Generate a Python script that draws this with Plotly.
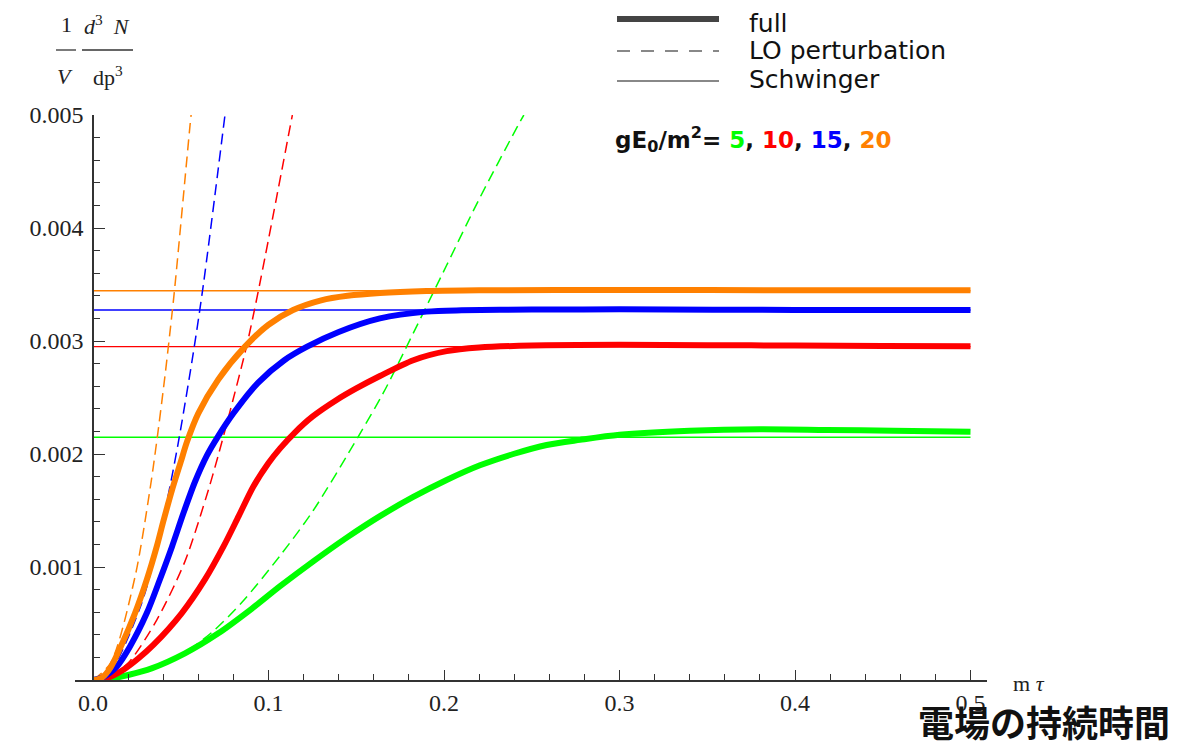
import plotly.graph_objects as go

# ---------------- data ----------------
field_labels = ["5", "10", "15", "20"]
colors = ["#00ff00", "#ff0000", "#0000ff", "#ff8000"]

# Schwinger rate levels
schwinger_x = [0.0, 0.5]
schwinger_levels = [0.002148, 0.002950, 0.003274, 0.003445]

# full results
full_x_5 = [0, 0.01, 0.02, 0.0334, 0.0524, 0.0714, 0.0904, 0.1066, 0.1255, 0.1446, 0.1635, 0.1825,
            0.2015, 0.2205, 0.2395, 0.2585, 0.2775, 0.3, 0.34, 0.38, 0.418, 0.456, 0.5]
full_y_5 = [0, 0.000012, 0.000044, 0.000103, 0.000236, 0.000413, 0.00063, 0.00083, 0.00105, 0.00126,
            0.00145, 0.00162, 0.00177, 0.0019, 0.002, 0.00208, 0.002125, 0.00217, 0.002205, 0.002218,
            0.002212, 0.002206, 0.002197]

full_x_10 = [0, 0.005, 0.01, 0.0182, 0.0258, 0.0344, 0.0505, 0.0638, 0.0743, 0.083, 0.0913, 0.1,
             0.1066, 0.115, 0.125, 0.139, 0.15, 0.1635, 0.1825, 0.2015, 0.22, 0.25, 0.3, 0.35, 0.4,
             0.45, 0.5]
full_y_10 = [0, 0.000008, 0.00003, 0.0001, 0.00019, 0.00031, 0.00059, 0.00089, 0.00118, 0.00145,
             0.00171, 0.00192, 0.00205, 0.00219, 0.00233, 0.00248, 0.00258, 0.00269, 0.00283, 0.00291,
             0.002942, 0.00296, 0.002966, 0.002963, 0.00296, 0.002956, 0.002953]

full_x_15 = [0, 0.005, 0.0135, 0.021, 0.0306, 0.038, 0.045, 0.0515, 0.058, 0.065, 0.071, 0.08,
             0.094, 0.109, 0.122, 0.14, 0.1635, 0.19, 0.21, 0.25, 0.3, 0.4, 0.5]
full_y_15 = [0, 0.00002, 0.000118, 0.000295, 0.00059, 0.000885, 0.00118, 0.001475, 0.00175, 0.00199,
             0.00215, 0.00236, 0.00263, 0.00283, 0.00295, 0.00308, 0.0032, 0.00326, 0.003272, 0.003278,
             0.00328, 0.003275, 0.003274]

full_x_20 = [0, 0.005, 0.01, 0.016, 0.0239, 0.0306, 0.0363, 0.04, 0.045, 0.05, 0.0536, 0.06, 0.0714,
             0.0866, 0.1, 0.114, 0.13, 0.145, 0.1635, 0.19, 0.22, 0.3, 0.4, 0.5]
full_y_20 = [0, 0.00002, 0.00011, 0.0003, 0.00059, 0.000885, 0.00118, 0.0014, 0.00168, 0.00193,
             0.00211, 0.00236, 0.00266, 0.00295, 0.003144, 0.003274, 0.00336, 0.0034, 0.003425,
             0.003442, 0.003449, 0.003451, 0.00345, 0.00345]

# LO perturbation
lo_x_5 = [0, 0.02, 0.035, 0.05, 0.0676, 0.085, 0.1066, 0.1255, 0.151, 0.1654, 0.1825, 0.2015,
          0.2205, 0.2433, 0.2455]
lo_y_5 = [0, 0.00004, 0.00011, 0.00022, 0.00042, 0.00069, 0.0011, 0.0015, 0.00215, 0.00254,
          0.00307, 0.00367, 0.00427, 0.00494, 0.005]

lo_x_10 = [0, 0.01, 0.02, 0.0363, 0.0524, 0.0657, 0.0714, 0.0771, 0.0876, 0.0952, 0.1136]
lo_y_10 = [0, 0.00004, 0.00015, 0.00053, 0.00105, 0.00168, 0.00199, 0.00232, 0.00296, 0.00352, 0.005]

lo_x_15 = [0, 0.01, 0.0268, 0.0344, 0.042, 0.0486, 0.0572, 0.0629, 0.0752]
lo_y_15 = [0, 0.00008, 0.00064, 0.00104, 0.00157, 0.0021, 0.0029, 0.0035, 0.005]

lo_x_20 = [0, 0.01, 0.0239, 0.0325, 0.0363, 0.041, 0.0448, 0.0467, 0.0553, 0.0559]
lo_y_20 = [0, 0.00015, 0.00091, 0.00169, 0.00211, 0.00269, 0.00321, 0.00349, 0.00491, 0.005]

x_ticks = [0.0, 0.1, 0.2, 0.3, 0.4, 0.5]
x_ticklabels = ["0.0", "0.1", "0.2", "0.3", "0.4", "0.5"]
y_ticks = [0.001, 0.002, 0.003, 0.004, 0.005]
y_ticklabels = ["0.001", "0.002", "0.003", "0.004", "0.005"]

full_x = [full_x_5, full_x_10, full_x_15, full_x_20]
full_y = [full_y_5, full_y_10, full_y_15, full_y_20]
lo_x = [lo_x_5, lo_x_10, lo_x_15, lo_x_20]
lo_y = [lo_y_5, lo_y_10, lo_y_15, lo_y_20]

# ---------------- layout geometry (screen pixels) ----------------
OFF = 8                      # default body margin of the html page
SW, SH = 1179, 746           # screen size
W, H = SW - OFF, SH - OFF    # figure size
L, R, T, B = 75, 987, 115, 680   # plot area in screen pixels
X0PIX, XSCALE = 93, 1755.0


def px(p):
    return (p - L) / (R - L)


def py(p):
    return (B - p) / (B - T)


fig = go.Figure()

for lvl, c in zip(schwinger_levels, colors):
    fig.add_trace(go.Scatter(x=schwinger_x, y=[lvl, lvl], mode="lines",
                             line=dict(color=c, width=1.4), showlegend=False, hoverinfo="skip"))

for xs, ys, c in zip(lo_x, lo_y, colors):
    fig.add_trace(go.Scatter(x=xs, y=ys, mode="lines", line_shape="spline",
                             line=dict(color=c, width=1.5, dash="11px,6px", smoothing=0.8),
                             showlegend=False, hoverinfo="skip"))

for xs, ys, c in zip(full_x, full_y, colors):
    fig.add_trace(go.Scatter(x=xs, y=ys, mode="lines", line_shape="spline",
                             line=dict(color=c, width=6, smoothing=0.8),
                             showlegend=False, hoverinfo="skip"))

axis_col = "#333333"
tick_font = dict(family="Liberation Serif, Times New Roman, serif", size=24, color="#222222")

xmin = (L - X0PIX) / XSCALE
xmax = (R - X0PIX) / XSCALE

fig.update_xaxes(range=[xmin, xmax], showgrid=False, zeroline=False,
                 showline=True, linecolor=axis_col, linewidth=1.6,
                 ticks="inside", ticklen=10, tickwidth=1.4, tickcolor=axis_col,
                 tickvals=x_ticks, ticktext=x_ticklabels, tickfont=tick_font,
                 minor=dict(ticks="inside", dtick=0.02, tick0=0, ticklen=6, tickwidth=1.2,
                            tickcolor=axis_col, showgrid=False))
fig.update_yaxes(range=[0, 0.005], showgrid=False, zeroline=False,
                 showline=True, linecolor=axis_col, linewidth=1.6,
                 anchor="free", position=px(X0PIX),
                 ticks="inside", ticklen=11, tickwidth=1.4, tickcolor=axis_col,
                 tickvals=y_ticks, ticktext=y_ticklabels, tickfont=tick_font,
                 ticklabelstandoff=4,
                 minor=dict(ticks="inside", dtick=0.0002, tick0=0, ticklen=6, tickwidth=1.2,
                            tickcolor=axis_col, showgrid=False))

serif = "Liberation Serif, Times New Roman, serif"
sans = "DejaVu Sans, Verdana, sans-serif"
anns = []
shapes = []

# y-axis title fraction
frac_font = dict(family=serif, size=22, color="#222")
anns.append(dict(x=px(66), y=py(25), text="1", font=frac_font))
anns.append(dict(x=px(65), y=py(76), text="<i>V</i>", font=frac_font))
anns.append(dict(x=px(107), y=py(25), text="<i>d</i><sup>3</sup>&nbsp;&nbsp;<i>N</i>", font=frac_font))
anns.append(dict(x=px(108), y=py(76), text="dp<sup>3</sup>", font=frac_font))
shapes.append(dict(type="line", xref="paper", yref="paper", x0=px(56), x1=px(76), y0=py(50), y1=py(50),
                   line=dict(color="#333", width=1.3)))
shapes.append(dict(type="line", xref="paper", yref="paper", x0=px(82), x1=px(133), y0=py(50), y1=py(50),
                   line=dict(color="#333", width=1.3)))

# x-axis title
anns.append(dict(x=px(1011), y=py(683), text="m&nbsp;<i>τ</i>", xanchor="left",
                 font=dict(family=serif, size=22, color="#222")))

# legend
shapes.append(dict(type="line", xref="paper", yref="paper", x0=px(617), x1=px(719), y0=py(19), y1=py(19),
                   line=dict(color="#444444", width=6)))
shapes.append(dict(type="line", xref="paper", yref="paper", x0=px(617), x1=px(719), y0=py(51), y1=py(51),
                   line=dict(color="#888888", width=2, dash="13px,11px")))
shapes.append(dict(type="line", xref="paper", yref="paper", x0=px(617), x1=px(719), y0=py(81), y1=py(81),
                   line=dict(color="#888888", width=2)))
for ytxt, label in [(23, "full"), (50, "LO perturbation"), (80, "Schwinger")]:
    anns.append(dict(x=px(747), y=py(ytxt), text=label, xanchor="left",
                     font=dict(family=sans, size=25, color="#111")))

param_text = "<b>gE<sub>0</sub>/m<sup>2</sup>= " + ", ".join(
    f"<span style='color:{c}'>{lab}</span>" for lab, c in zip(field_labels, colors)) + "</b>"
anns.append(dict(x=px(613), y=py(140), text=param_text, xanchor="left",
                 font=dict(family=sans, size=23, color="#111")))

# Japanese caption
anns.append(dict(x=px(1172), y=py(721), text="<b>電場の持続時間</b>", xanchor="right",
                 font=dict(family="Noto Sans CJK JP", size=36, color="#111")))

for a in anns:
    a.setdefault("xref", "paper")
    a.setdefault("yref", "paper")
    a.setdefault("showarrow", False)
    a.setdefault("yanchor", "middle")
    a.setdefault("xanchor", "center")

fig.update_layout(width=W, height=H,
                  margin=dict(l=L - OFF, r=SW - R, t=T - OFF, b=SH - B, pad=0),
                  paper_bgcolor="white", plot_bgcolor="white", showlegend=False,
                  annotations=anns, shapes=shapes)

fig.write_html("out.html")
